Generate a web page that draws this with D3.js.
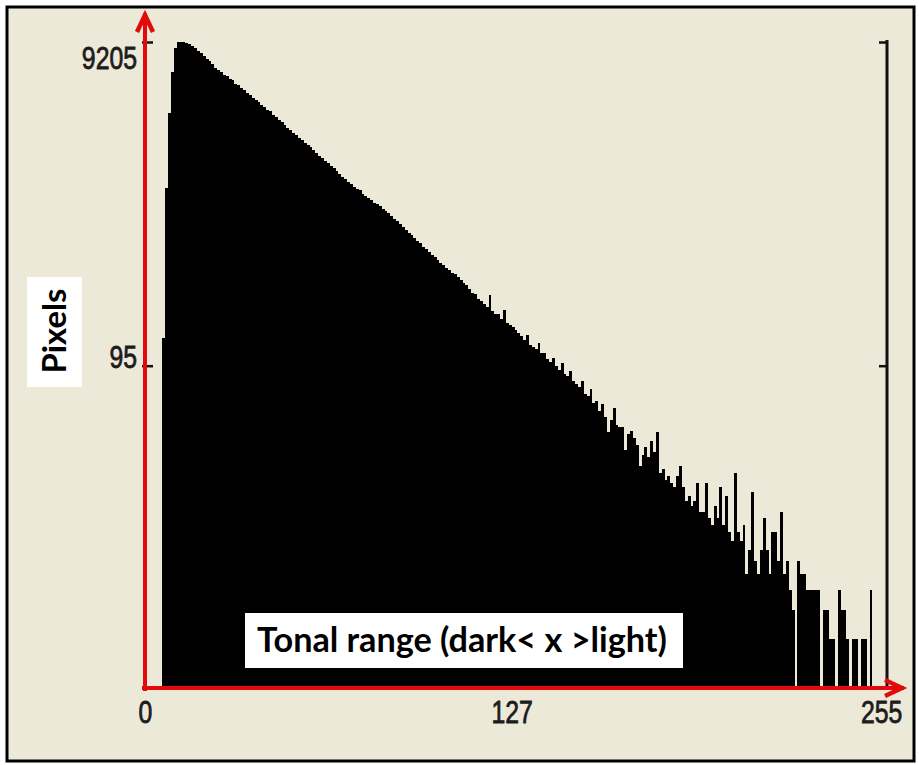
<!DOCTYPE html>
<html>
<head>
<meta charset="utf-8">
<script src="https://cdn.jsdelivr.net/npm/d3@7"></script>
<style>
  body { margin: 0; background: #ffffff; }
  svg { display: block; }
</style>
</head>
<body>
<svg id="chart" width="919" height="765"></svg>
<script>
// Tonal histogram: pixel count per brightness level (0 = dark, 255 = light)
const levels = d3.range(256);
const counts = [
  0, 0, 0, 0, 0, 0, 140, 1170, 3375, 6025,
  8455, 9205, 9205, 9150, 9050, 8900, 8700, 8420, 8150, 7870,
  7600, 7230, 7050, 6745, 6420, 6225, 6010, 5800, 5720, 5480,
  5350, 5100, 5010, 4790, 4670, 4480, 4350, 4160, 4080, 3920,
  3790, 3700, 3520, 3450, 3290, 3200, 3055, 2960, 2850, 2740,
  2660, 2545, 2470, 2370, 2310, 2210, 2150, 2088, 1990, 1930,
  1850, 1800, 1720, 1665, 1590, 1550, 1480, 1420, 1368, 1330,
  1280, 1240, 1190, 1160, 1137, 1080, 1050, 1010, 985, 950,
  930, 905, 870, 845, 820, 790, 760, 730, 700, 670,
  650, 620, 605, 580, 555, 535, 508, 495, 475, 455,
  441, 425, 408, 396, 380, 368, 352, 345, 333, 318,
  305, 296, 280, 265, 262, 245, 238, 226, 218, 258,
  205, 196, 198, 185, 209, 174, 170, 163, 158, 150,
  144, 137, 146, 128, 124, 121, 130, 113, 114, 104,
  100, 106, 94, 90, 98, 85, 82, 88, 76, 73,
  70, 76, 64, 62, 68, 56, 58, 50, 55, 46,
  37, 44, 52, 41, 40, 40, 29, 36, 38, 34,
  31, 23, 27, 30, 26, 33, 28, 37, 21, 22,
  19, 20, 18, 17, 20, 23, 17, 14, 15, 13,
  14, 18, 12, 12, 18, 11, 10, 13, 11, 17,
  10, 15, 9, 8, 21, 9, 8, 10, 5, 7,
  16, 6, 5, 7, 11, 7, 5, 9, 9, 6,
  12, 5, 6, 4, 3, 1, 6, 5, 5, 4,
  4, 4, 4, 4, 1, 3, 3, 2, 2, 1,
  4, 3, 3, 2, 1, 2, 2, 1, 2, 2,
  1, 4, 1, 1, 1, 1
];
const xTicks = [0, 127, 255];
const yTicks = [95, 9205];
const xTitle = "Tonal range (dark< x >light)";
const yTitle = "Pixels";

const plot = { left: 145, right: 884, top: 42, bottom: 688 };
const RED = "#e20a0a";
const BG = "#ECE9D8";
const INK = "#1c1c1c";

const svg = d3.select("#chart");

// panel with black frame
svg.append("rect")
  .attr("x", 7).attr("y", 7)
  .attr("width", 907).attr("height", 754)
  .attr("fill", BG).attr("stroke", "#000").attr("stroke-width", 3);

const x = d3.scaleLinear().domain([0, 256]).range([plot.left, plot.right]);
const y = d3.scaleLog().domain([1, d3.max(counts)]).range([plot.bottom, plot.top]).clamp(true);
const bw = x(1) - x(0);

// histogram bars
svg.append("g")
  .selectAll("rect")
  .data(levels.filter(i => counts[i] > 1))
  .join("rect")
  .attr("x", i => x(i))
  .attr("width", bw)
  .attr("y", i => y(counts[i]))
  .attr("height", i => y(1) - y(counts[i]))
  .attr("fill", "#000")
  .attr("shape-rendering", "crispEdges");

// right-hand frame axis with inward ticks
const rightAxis = svg.append("g")
  .attr("transform", `translate(${plot.right + 3},0)`)
  .call(d3.axisLeft(y).tickValues(yTicks).tickSize(8).tickSizeOuter(0).tickFormat(""));
rightAxis.select(".domain").attr("stroke", "#111").attr("stroke-width", 3)
  .attr("d", `M0,${plot.top - 2}V${plot.bottom}`);
rightAxis.selectAll(".tick line").attr("stroke", "#111").attr("stroke-width", 2.5);

// left axis: ticks + labels
const labelFont = "'Liberation Sans', Arial, sans-serif";
const leftAxis = svg.append("g")
  .attr("transform", `translate(${plot.left},0)`)
  .call(d3.axisLeft(y).tickValues(yTicks).tickSize(3).tickSizeOuter(0).tickFormat(d3.format("d")));
leftAxis.select(".domain").remove();
leftAxis.selectAll(".tick line").attr("x1", -3).attr("x2", 8).attr("stroke", "#111").attr("stroke-width", 2.5);
leftAxis.selectAll(".tick text")
  .attr("x", 0).attr("dy", null)
  .attr("transform", d => `translate(-8,${d === d3.max(yTicks) ? 26 : 2}) scale(0.8,1)`)
  .attr("text-anchor", "end")
  .attr("font-family", labelFont).attr("font-size", 31)
  .attr("fill", INK).attr("stroke", INK).attr("stroke-width", 0.8);

// bottom axis labels
const bottomAxis = svg.append("g")
  .attr("transform", `translate(0,${plot.bottom})`)
  .call(d3.axisBottom(x).tickValues(xTicks).tickSize(0).tickFormat(d3.format("d")));
bottomAxis.select(".domain").remove();
bottomAxis.selectAll(".tick text")
  .attr("y", 0).attr("dy", null)
  .attr("transform", "translate(0,35) scale(0.8,1)")
  .attr("text-anchor", "middle")
  .attr("font-family", labelFont).attr("font-size", 31)
  .attr("fill", INK).attr("stroke", INK).attr("stroke-width", 0.8);

// red arrows for the two axes
const arrows = svg.append("g").attr("fill", "none").attr("stroke", RED)
  .attr("stroke-width", 4).attr("stroke-linecap", "square");
arrows.append("path").attr("d", `M${plot.left},${plot.bottom + 1}V15`);
arrows.append("path").attr("d", `M${plot.left - 8},32L${plot.left},15L${plot.left + 8},32`)
  .attr("stroke-width", 4.5).attr("stroke-linejoin", "miter").attr("stroke-linecap", "butt");
arrows.append("path").attr("d", `M${plot.left - 1},${plot.bottom}H902`);
arrows.append("path").attr("d", `M885,${plot.bottom - 8}L902,${plot.bottom}L885,${plot.bottom + 8}`)
  .attr("stroke-width", 4.5).attr("stroke-linejoin", "miter").attr("stroke-linecap", "butt");

// titles on white boxes
const titleFont = "Lato, 'Open Sans', sans-serif";
function fitText(sel, target) {
  const len = sel.node().getComputedTextLength();
  const fs = parseFloat(sel.attr("font-size"));
  sel.attr("font-size", fs * target / len);
}

svg.append("rect").attr("x", 245).attr("y", 613).attr("width", 438).attr("height", 55).attr("fill", "#fff");
const xt = svg.append("text")
  .attr("x", 462).attr("y", 652)
  .attr("text-anchor", "middle")
  .attr("font-family", titleFont).attr("font-weight", "bold").attr("font-size", 30)
  .attr("fill", "#000").text(xTitle);
fitText(xt, 410);

svg.append("rect").attr("x", 27).attr("y", 277).attr("width", 55).attr("height", 110).attr("fill", "#fff");
const yt = svg.append("text")
  .attr("transform", "translate(66,331) rotate(-90)")
  .attr("text-anchor", "middle")
  .attr("font-family", titleFont).attr("font-weight", "bold").attr("font-size", 30)
  .attr("fill", "#000").text(yTitle);
fitText(yt, 85);
</script>
</body>
</html>
